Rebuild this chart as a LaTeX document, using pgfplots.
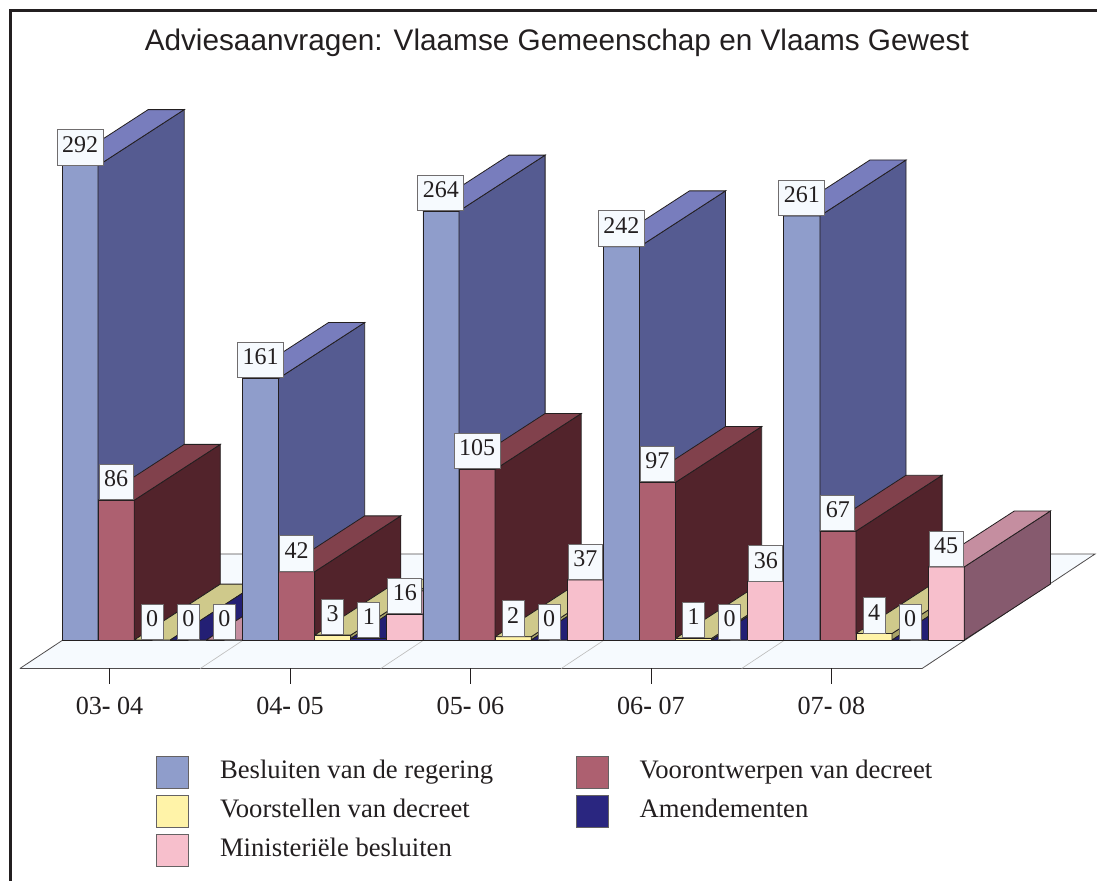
\documentclass[border=0pt]{standalone}
\usepackage{pgfplots}
\pgfplotsset{compat=1.18}
\usepackage{fontspec}
\setmainfont{Liberation Serif}
\newfontfamily\titlefont{Liberation Sans}
\definecolor{bF}{HTML}{8F9DCB}\definecolor{bS}{HTML}{555B91}\definecolor{bT}{HTML}{787DBD}
\definecolor{rF}{HTML}{AD6070}\definecolor{rS}{HTML}{52232B}\definecolor{rT}{HTML}{81414C}
\definecolor{yF}{HTML}{FFF3A8}\definecolor{yS}{HTML}{A9A468}\definecolor{yT}{HTML}{CFC98B}
\definecolor{nF}{HTML}{2A2680}\definecolor{nS}{HTML}{1A1850}\definecolor{nT}{HTML}{231F74}
\definecolor{pF}{HTML}{F7BFCC}\definecolor{pS}{HTML}{865A6E}\definecolor{pT}{HTML}{C58EA0}
\definecolor{floorc}{HTML}{F6FAFE}
\definecolor{ink}{HTML}{231F20}
% \cube{x0}{x1}{value}{colour prefix}: one bar of the oblique chart
\newcommand\cube[4]{%
  \addplot3[forget plot,draw=ink,line width=0.6pt,fill=#4F] coordinates {(#1,0,0)(#2,0,0)(#2,0,#3)(#1,0,#3)(#1,0,0)};
  \addplot3[forget plot,draw=ink,line width=0.6pt,fill=#4S] coordinates {(#2,0,0)(#2,1,0)(#2,1,#3)(#2,0,#3)(#2,0,0)};
  \addplot3[forget plot,draw=ink,line width=0.6pt,fill=#4T] coordinates {(#1,0,#3)(#2,0,#3)(#2,1,#3)(#1,1,#3)(#1,0,#3)};
}
\newcommand\legsq[1]{\addlegendimage{legend image code/.code={\draw[draw=ink!70,line width=0.7pt,fill=#1] (0pt,-13.75pt) rectangle (24pt,10.25pt);}}}
\begin{document}
\begin{tikzpicture}
\path[use as bounding box] (0,0) rectangle (822.75pt,660.75pt);
\draw[ink,line width=2.25pt] (8.1pt,0pt) -- (8.1pt,653pt) -- (822.75pt,653pt);
\begin{axis}[
  at={(46.5pt,180.75pt)},anchor=origin,
  x={(135.34pt,0pt)},y={(64.6pt,41.9pt)},z={(0pt,1.21875pt)},
  xmin=0,xmax=5.01,ymin=-0.51,ymax=1.538,zmin=0,zmax=300,
  clip=false,
  axis line style={draw=none},
  ytick=\empty,ztick=\empty,
  xtick={0.507,1.507,2.507,3.507,4.507},
  xticklabels={{03{\bfseries-} 04},{04{\bfseries-} 05},{05{\bfseries-} 06},{06{\bfseries-} 07},{07{\bfseries-} 08}},
  tick style={draw=none},
  x tick label style={font=\fontsize{19.6}{21}\selectfont,text=ink,anchor=north,yshift=-18pt},
  legend columns=2,
  legend cell align=left,
  legend style={at={(0.5,0)},anchor=north west,xshift=-304.6pt,yshift=-63.35pt,draw=none,fill=none,
    font=\fontsize{20}{22}\selectfont,text=ink,
    row sep=4.6pt,
    /tikz/every even column/.append style={column sep=60pt},
    /tikz/every odd column/.append style={column sep=21pt}},
  title={\titlefont\fontsize{22.3}{26}\selectfont\color{ink} Adviesaanvragen: Vlaamse Gemeenschap en Vlaams Gewest},
  title style={yshift=-2.3pt,xshift=-1.1pt},
]
\legsq{bF}\addlegendentry{Besluiten van de regering}
\legsq{rF}\addlegendentry{Voorontwerpen van decreet}
\legsq{yF}\addlegendentry{Voorstellen van decreet}
\legsq{nF}\addlegendentry{Amendementen}
\legsq{pF}\addlegendentry{Ministeriële besluiten}
% floor
\addplot3[forget plot,draw=ink!80,line width=0.6pt,fill=floorc] coordinates {(0.01,-0.51,0)(5.01,-0.51,0)(4.99,1.538,0)(-0.01,1.538,0)(0.01,-0.51,0)};
\addplot3[forget plot,draw=black!25,line width=0.5pt] coordinates {(1.01,-0.51,0)(0.99,1.538,0)};
\addplot3[forget plot,draw=black!25,line width=0.5pt] coordinates {(2.01,-0.51,0)(1.99,1.538,0)};
\addplot3[forget plot,draw=black!25,line width=0.5pt] coordinates {(3.01,-0.51,0)(2.99,1.538,0)};
\addplot3[forget plot,draw=black!25,line width=0.5pt] coordinates {(4.01,-0.51,0)(3.99,1.538,0)};
% tick marks
\addplot3[forget plot,draw=ink,line width=0.6pt] coordinates {(0.507,-0.51,0)(0.507,-0.51,-9.5)};
\addplot3[forget plot,draw=ink,line width=0.6pt] coordinates {(1.507,-0.51,0)(1.507,-0.51,-9.5)};
\addplot3[forget plot,draw=ink,line width=0.6pt] coordinates {(2.507,-0.51,0)(2.507,-0.51,-9.5)};
\addplot3[forget plot,draw=ink,line width=0.6pt] coordinates {(3.507,-0.51,0)(3.507,-0.51,-9.5)};
\addplot3[forget plot,draw=ink,line width=0.6pt] coordinates {(4.507,-0.51,0)(4.507,-0.51,-9.5)};
% bars
\cube{0.0}{0.2}{292}{b}\cube{0.2}{0.4}{86}{r}\cube{0.4}{0.6}{0}{y}\cube{0.6}{0.8}{0}{n}\cube{0.8}{1.0}{0}{p}
\cube{1.0}{1.2}{161}{b}\cube{1.2}{1.4}{42}{r}\cube{1.4}{1.6}{3}{y}\cube{1.6}{1.8}{1}{n}\cube{1.8}{2.0}{16}{p}
\cube{2.0}{2.2}{264}{b}\cube{2.2}{2.4}{105}{r}\cube{2.4}{2.6}{2}{y}\cube{2.6}{2.8}{0}{n}\cube{2.8}{3.0}{37}{p}
\cube{3.0}{3.2}{242}{b}\cube{3.2}{3.4}{97}{r}\cube{3.4}{3.6}{1}{y}\cube{3.6}{3.8}{0}{n}\cube{3.8}{4.0}{36}{p}
\cube{4.0}{4.2}{261}{b}\cube{4.2}{4.4}{67}{r}\cube{4.4}{4.6}{4}{y}\cube{4.6}{4.8}{0}{n}\cube{4.8}{5.0}{45}{p}
% value labels
\addplot3[forget plot,only marks,mark=none,draw=none,
  point meta=explicit symbolic,
  nodes near coords,
  every node near coord/.append style={anchor=south,font=\fontsize{18}{20}\selectfont,
    text=ink,fill=floorc,draw=ink!65,line width=0.7pt,
    inner xsep=3.75pt,inner ysep=0pt,minimum height=26.5pt,text height=7pt,text depth=0pt,yshift=0pt},
] table[x=x,y=y,z=z,meta=z] {
x y z
0.1 0 292
0.3 0 86
0.5 0 0
0.7 0 0
0.9 0 0
1.1 0 161
1.3 0 42
1.5 0 3
1.7 0 1
1.9 0 16
2.1 0 264
2.3 0 105
2.5 0 2
2.7 0 0
2.9 0 37
3.1 0 242
3.3 0 97
3.5 0 1
3.7 0 0
3.9 0 36
4.1 0 261
4.3 0 67
4.5 0 4
4.7 0 0
4.9 0 45
};
\end{axis}
\end{tikzpicture}
\end{document}
